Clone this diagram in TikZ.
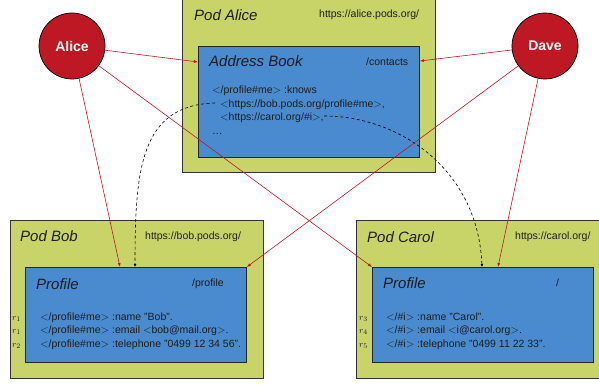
\documentclass[tikz,border=0pt]{standalone}
\usepackage{fontspec}
\setmainfont{Liberation Sans}
\usepackage{xcolor}
\usetikzlibrary{positioning,calc,arrows.meta}

\definecolor{podgreen}{RGB}{200,212,104}
\definecolor{resblue}{RGB}{74,138,206}
\definecolor{agentred}{RGB}{190,24,36}
\definecolor{textdark}{RGB}{30,30,30}

\tikzset{
    pod/.style={draw=black!80, fill=podgreen, line width=0.8pt, rectangle, inner sep=0pt, anchor=north west},
    resource/.style={draw=black!85, fill=resblue, line width=0.8pt, rectangle, inner sep=0pt, anchor=north west},
    agent/.style={circle, draw=black, fill=agentred, line width=0.7pt, minimum size=66pt, inner sep=0pt, text=white, font=\fontsize{14}{16}\selectfont\bfseries},
    podtitle/.style={anchor=base west, inner sep=0pt, text=textdark, font=\fontsize{15}{18}\selectfont\itshape},
    podurl/.style={anchor=base west, inner sep=0pt, text=textdark, font=\fontsize{10.5}{13}\selectfont},
    triple/.style={anchor=base west, inner sep=0pt, text=textdark, font=\fontsize{10.5}{13}\selectfont},
    rlabel/.style={anchor=base west, inner sep=0pt, text=textdark, font=\fontsize{9.5}{11}\selectfont},
    access/.style={draw=agentred, line width=0.6pt, -{Latex[length=4pt,width=3pt]}},
    link/.style={draw=black, line width=0.6pt, dash pattern=on 3pt off 2.5pt, -{Latex[length=3pt,width=3pt]}}
}

\begin{document}
\begin{tikzpicture}[x=1pt, y=-1pt]
    \useasboundingbox (0,0) rectangle (599,385);
    \clip (0,0) rectangle (599,385);

    % Pods
    \node[pod, minimum width=253pt, minimum height=177pt] (podalice) at (182,-5) {};
    \node[pod, minimum width=253pt, minimum height=158pt] (podbob) at (10,220) {};
    \node[pod, minimum width=253pt, minimum height=158pt] (podcarol) at (356,220) {};

    % Resources
    \node[resource, minimum width=221pt, minimum height=111pt] (contacts) at (198,46) {};
    \node[resource, minimum width=221pt, minimum height=95pt] (bobprofile) at (25,267) {};
    \node[resource, minimum width=221pt, minimum height=95pt] (carolprofile) at (372,267) {};

    % Pod Alice
    \node[podtitle] (alicetitle) at (194,21) {Pod Alice};
    \node[podurl] (aliceurl) at (319,18) {https://alice.pods.org/};
    \node[podtitle] (contactstitle) at (209,67) {Address Book};
    \node[podurl] (contactspath) at (366,66) {/contacts};
    \node[triple] (knows) at (212,94) {$<$/profile\#me$>$ :knows};
    \node[triple] (knowsbob) at (220,107.5) {$<$https://bob.pods.org/profile\#me$>$,};
    \node[triple] (knowscarol) at (220,121) {$<$https://carol.org/\#i$>$,};
    \node[triple] (knowsmore) at (212,134.5) {\dots};

    % Pod Bob
    \node[podtitle] (bobtitle) at (20,241) {Pod Bob};
    \node[podurl] (boburl) at (145,239) {https://bob.pods.org/};
    \node[podtitle] (bobproftitle) at (36,289) {Profile};
    \node[podurl] (bobprofpath) at (192,286) {/profile};
    \node[triple] (bobname) at (40,320) {$<$/profile\#me$>$ :name "Bob".};
    \node[triple] (bobmail) at (40,333.5) {$<$/profile\#me$>$ :email $<$bob@mail.org$>$.};
    \node[triple] (bobtel) at (40,347) {$<$/profile\#me$>$ :telephone "0499 12 34 56".};
    \node[rlabel] (rbobname) at (12,320) {$r_1$};
    \node[rlabel] (rbobmail) at (12,333.5) {$r_1$};
    \node[rlabel] (rbobtel) at (12,347) {$r_2$};

    % Pod Carol
    \node[podtitle] (caroltitle) at (367,242) {Pod Carol};
    \node[podurl] (carolurl) at (515,239) {https://carol.org/};
    \node[podtitle] (carolproftitle) at (383,288) {Profile};
    \node[podurl] (carolprofpath) at (556,286) {/};
    \node[triple] (carolname) at (386,320) {$<$/\#i$>$ :name "Carol".};
    \node[triple] (carolmail) at (386,333.5) {$<$/\#i$>$ :email $<$i@carol.org$>$.};
    \node[triple] (caroltel) at (386,347) {$<$/\#i$>$ :telephone "0499 11 22 33".};
    \node[rlabel] (rcarolname) at (359,320) {$r_3$};
    \node[rlabel] (rcarolmail) at (359,333.5) {$r_4$};
    \node[rlabel] (rcaroltel) at (359,347) {$r_5$};

    % Links between documents
    \coordinate (bobref) at (215,103);
    \coordinate (carolref) at (324,116);
    \draw[link] (bobref) .. controls (140,105) and (135,170) .. ($(bobprofile.north west)+(110,0)$);
    \draw[link] (carolref) .. controls (400,116) and (478,170) .. ($(carolprofile.north west)+(110,0)$);

    % Agents
    \node[agent] (alice) at (72,46) {Alice};
    \node[agent] (dave) at (545,46) {Dave};

    \draw[access] (alice) -- ($(contacts.north west)+(0,16)$);
    \draw[access] (alice) -- ($(bobprofile.north west)+(95,0)$);
    \draw[access] (alice) -- (carolprofile.north west);
    \draw[access] (dave) -- ($(contacts.north east)+(0,15)$);
    \draw[access] (dave) -- (bobprofile.north east);
    \draw[access] (dave) -- ($(carolprofile.north west)+(126,0)$);
\end{tikzpicture}
\end{document}
